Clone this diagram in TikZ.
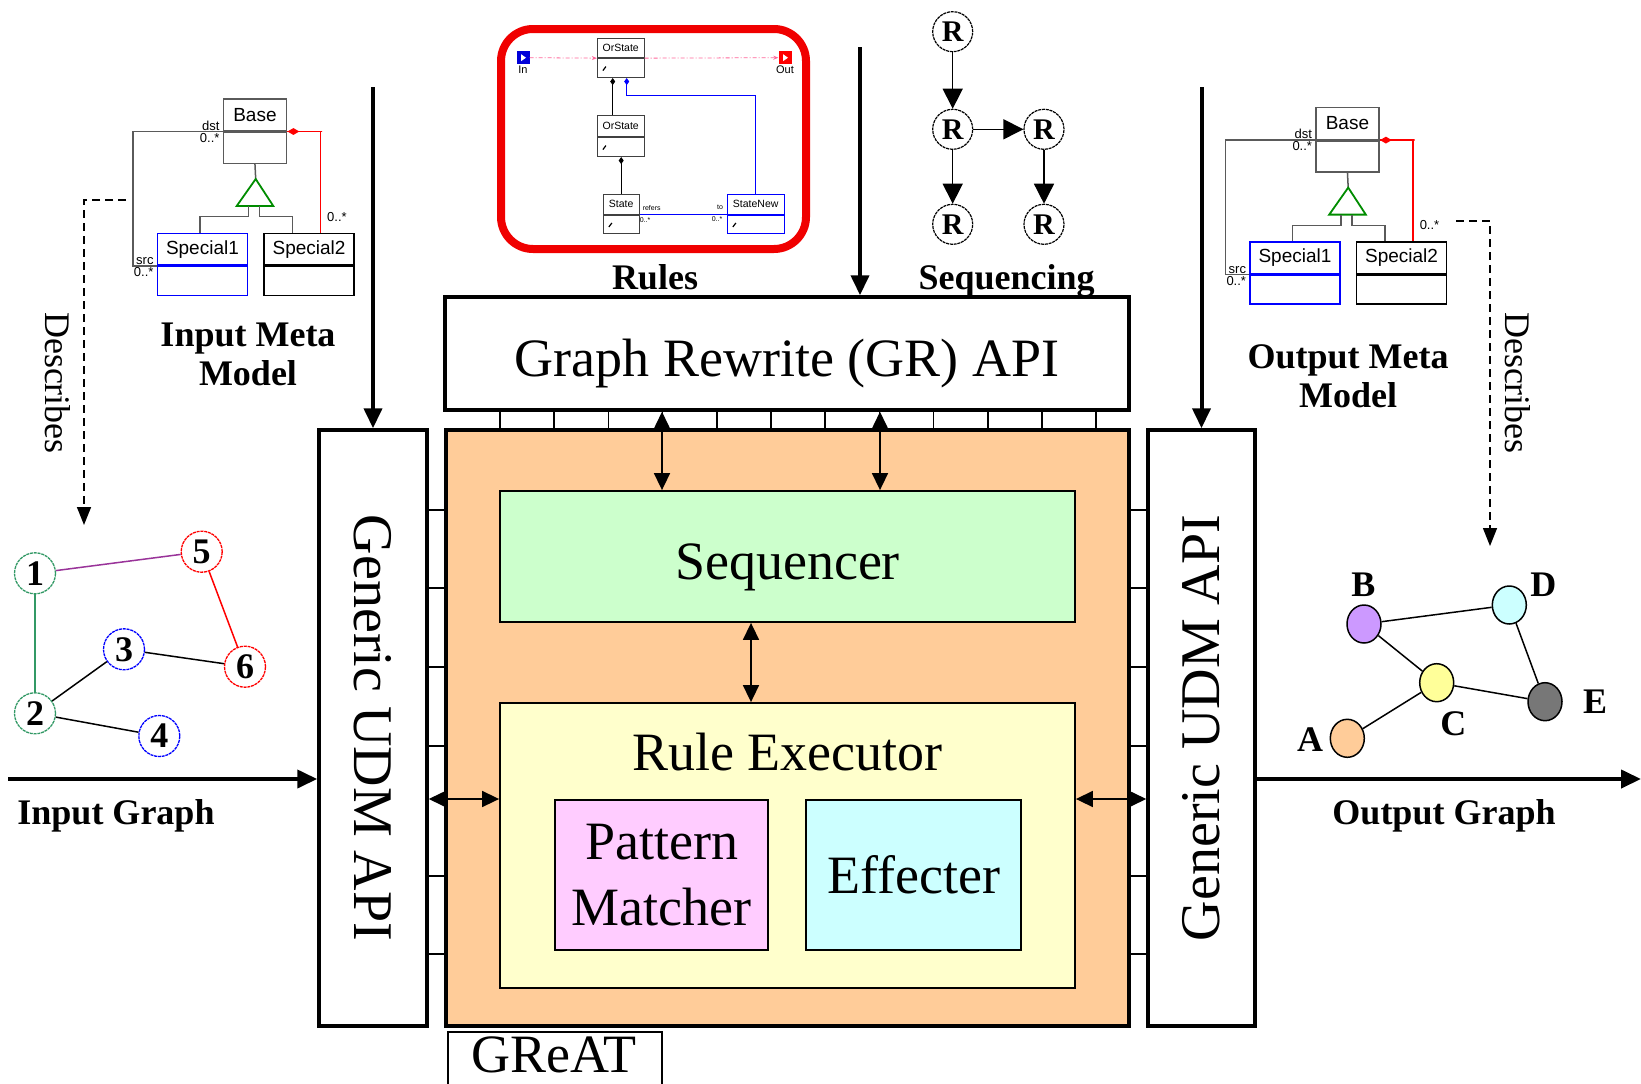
\documentclass[tikz,border=0pt]{standalone}
\usepackage{fontspec}
\setmainfont{Liberation Serif}
\newfontfamily\umlsans{Liberation Sans}
\usetikzlibrary{arrows.meta,shapes.geometric}
\definecolor{peach}{RGB}{255,204,153}
\definecolor{seqgreen}{RGB}{204,255,204}
\definecolor{ruleyellow}{RGB}{255,255,204}
\definecolor{patpink}{RGB}{255,204,255}
\definecolor{effcyan}{RGB}{204,255,255}
\definecolor{ggreen}{RGB}{51,153,102}
\definecolor{purp}{RGB}{153,51,153}
\definecolor{colB}{RGB}{204,153,255}
\definecolor{colC}{RGB}{255,255,153}
\definecolor{colD}{RGB}{204,255,255}
\definecolor{colE}{RGB}{119,119,119}
\definecolor{colA}{RGB}{255,204,153}
\definecolor{rulered}{RGB}{240,0,0}
\definecolor{pinkline}{RGB}{255,102,153}
\definecolor{umlgray}{RGB}{90,90,90}
\definecolor{trigreen}{RGB}{0,140,0}
\begin{document}
\begin{tikzpicture}[x=1pt,y=-1pt,
  bigbox/.style={draw, line width=3.5pt, inner sep=0pt},
  midbox/.style={draw, line width=1.8pt, inner sep=0pt},
  big/.style={font=\fontsize{54}{66}\selectfont},
  udm/.style={font=\fontsize{56}{60}\selectfont},
  lbl/.style={font=\fontsize{36}{39}\selectfont\bfseries, inner sep=0pt},
  desctext/.style={font=\fontsize{36}{40}\selectfont, inner sep=0pt},
  tick/.style={line width=1.5pt},
  dbl/.style={line width=1.6pt, arrows={Triangle[length=17pt,width=16pt]-Triangle[length=17pt,width=16pt]}},
  thickarr/.style={line width=4pt, arrows={-Triangle[length=20pt,width=18pt]}},
  rnode/.style={circle, draw, dash pattern=on 3pt off 0.8pt, line width=1.2pt, minimum size=40pt, inner sep=0pt, font=\fontsize{30}{30}\selectfont\bfseries},
  seqarr/.style={line width=1.5pt, arrows={-Triangle[length=20pt,width=20pt]}},
  gnode/.style={circle, draw, dash pattern=on 3pt off 0.8pt, line width=1.3pt, minimum size=41pt, inner sep=0pt, font=\fontsize{36}{36}\selectfont\bfseries},
  onode/.style={ellipse, draw, line width=1.5pt, minimum width=34pt, minimum height=38pt, inner sep=0pt},
  olbl/.style={font=\fontsize{36}{36}\selectfont\bfseries, inner sep=0pt},
  gedge/.style={line width=1.5pt},
  uml/.style={draw, line width=1.5pt, inner sep=0pt, font=\umlsans\fontsize{19}{19}\selectfont},
  umltiny/.style={font=\umlsans\fontsize{13}{13}\selectfont, inner sep=0pt},
  rcls/.style={draw=black!75, line width=0.9pt, inner sep=0pt, font=\umlsans\fontsize{10.5}{10.5}\selectfont},
  rtiny/.style={font=\umlsans\fontsize{7}{7}\selectfont, inner sep=0pt},
  desc/.style={dash pattern=on 8pt off 5pt, line width=1.5pt, arrows={-Triangle[length=18pt,width=14pt]}}
]
\useasboundingbox (0,0) rectangle (1641,1084);

% ---------------- main blocks ----------------
\node[bigbox, fill=peach, minimum width=683pt, minimum height=596pt] (great) at (787.5,728) {};
\node[bigbox, fill=white, minimum width=684pt, minimum height=113pt] (gr) at (787,353.5) {};
\node[big, inner sep=0pt] (grtext) at (787,364) {Graph Rewrite (GR) API};
\node[bigbox, fill=white, minimum width=108pt, minimum height=596pt] (lu) at (373,728) {};
\node[udm, rotate=-90] (lutext) at (lu.center) {Generic UDM API};
\node[bigbox, fill=white, minimum width=107pt, minimum height=596pt] (ru) at (1201.5,728) {};
\node[udm, rotate=90] (rutext) at (ru.center) {Generic UDM API};
\node[midbox, fill=seqgreen, minimum width=575pt, minimum height=131pt] (seq) at (787.5,556.5) {};
\node[big, inner sep=0pt] (seqtext) at (787.5,567) {Sequencer};
\node[midbox, fill=ruleyellow, minimum width=575pt, minimum height=285pt] (re) at (787.5,845.5) {};
\node[big, inner sep=0pt] (retext) at (787.5,752) {Rule Executor};
\node[midbox, fill=patpink, minimum width=213pt, minimum height=150pt, big, align=center] (pm) at (661.5,875) {Pattern\\Matcher};
\node[midbox, fill=effcyan, minimum width=215pt, minimum height=150pt, big] (eff) at (913.5,875) {Effecter};
\node[draw, line width=1.5pt, fill=white, minimum width=214pt, minimum height=64pt, inner sep=0pt, anchor=north west] (greatlbl) at (447,1031) {};
\node[big, inner sep=0pt] (greattext) at (554,1055) {GReAT};

% ticks
\foreach \k in {0,...,11} { \draw[tick] (500+\k*54.2,410) -- (500+\k*54.2,430); }
\foreach \yy in {510,588,667,746,876,954} {
  \draw[tick] (427,\yy) -- (446,\yy);
  \draw[tick] (1129,\yy) -- (1148,\yy);
}

% double arrows
\draw[dbl] ([xshift=-125pt]gr.south) -- ([xshift=-125.5pt]seq.north);
\draw[dbl] ([xshift=93pt]gr.south) -- ([xshift=92.5pt]seq.north);
\draw[dbl] ([xshift=-36.5pt]seq.south) -- ([xshift=-36.5pt]re.north);
\draw[dbl] ([yshift=-71pt]lu.east) -- ([yshift=46.5pt]re.west);
\draw[dbl] ([yshift=46.5pt]re.east) -- ([yshift=-71pt]ru.west);

% top arrows
\coordinate (topL) at (373,87);
\coordinate (topM) at (860,47);
\coordinate (topR) at (1201.5,87);
\draw[thickarr] (topL) -- (lu.north);
\draw[thickarr] (topM) -- (topM |- gr.north);
\draw[thickarr] (topR) -- (ru.north);

% input / output arrows
\coordinate (inS) at (8,779);
\coordinate (outE) at (1641,779);
\draw[thickarr] (inS) -- (inS -| lu.west);
\draw[thickarr] (outE -| ru.east) -- (outE);
\node[lbl] (inlbl) at (116,816) {Input Graph};
\node[lbl] (outlbl) at (1444,816) {Output Graph};

% ---------------- Rules picture ----------------
\node[draw=rulered, line width=8pt, rounded corners=32pt, minimum width=305pt, minimum height=220pt, inner sep=0pt] (rulesframe) at (653.5,139) {};
\node[rcls, minimum width=46.7pt, minimum height=19.4pt] (ortop) at (620.7,48) {OrState};
\node[rcls, minimum width=46.7pt, minimum height=19pt, anchor=north] (ortopL) at (ortop.south) {};
\node[rcls, minimum width=46.7pt, minimum height=21pt] (ormid) at (620.7,126.2) {OrState};
\node[rcls, minimum width=46.7pt, minimum height=19pt, anchor=north] (ormidL) at (ormid.south) {};
\node[rcls, minimum width=35.7pt, minimum height=20.3pt] (rstate) at (621.2,204.2) {State};
\node[rcls, minimum width=35.7pt, minimum height=18.4pt, anchor=north] (rstateL) at (rstate.south) {};
\node[rcls, draw=blue, minimum width=56.7pt, minimum height=20.3pt] (rnew) at (755.7,204.2) {StateNew};
\node[rcls, draw=blue, minimum width=56.7pt, minimum height=18.4pt, anchor=north] (rnewL) at (rnew.south) {};
\foreach \n in {ortopL,ormidL,rstateL,rnewL} {
  \draw[line width=1.2pt] ([xshift=6pt,yshift=-2.5pt]\n.west) -- ++(3,-4);
}
\node[fill=blue!85!black, minimum size=13pt, inner sep=0pt] (rin) at (523,57.7) {};
\fill[white] ([xshift=-2pt,yshift=3.5pt]rin.center) -- ++(5,3.5) -- ++(-5,3.5) -- cycle;
\node[font=\umlsans\fontsize{11}{11}\selectfont, anchor=north, inner sep=1.5pt] (rinlbl) at (rin.south) {In};
\node[fill=red, minimum size=13pt, inner sep=0pt] (rout) at (785,57.7) {};
\fill[white] ([xshift=-2pt,yshift=3.5pt]rout.center) -- ++(5,3.5) -- ++(-5,3.5) -- cycle;
\node[font=\umlsans\fontsize{11}{11}\selectfont, anchor=north, inner sep=1.5pt] (routlbl) at (rout.south) {Out};
\draw[pinkline, line width=0.8pt, dash pattern=on 4pt off 2pt on 1pt off 2pt, arrows={-Stealth[length=5pt,width=4pt]}] (rin.east) -- (ortop.south west);
\draw[pinkline, line width=0.8pt, dash pattern=on 4pt off 2pt on 1pt off 2pt, arrows={-Stealth[length=5pt,width=4pt]}] (ortop.south east) -- (rout.west);
\draw[line width=1pt, arrows={-Diamond[length=7pt,width=5pt]}] ([xshift=-8pt]ormid.north) -- ([xshift=-8pt]ortopL.south);
\draw[line width=1pt, arrows={-Diamond[length=7pt,width=5pt]}] (rstate.north) -- (rstate.north |- ormidL.south);
\draw[blue, line width=1pt, arrows={-Diamond[length=7pt,width=5pt]}] (rnew.north) -- ++(0,-98) -| ([xshift=6pt]ortopL.south);
\draw[blue, line width=1pt] (rstateL.north east) -- (rnewL.north west);
\node[rtiny] (rt1) at (651.7,207.5) {refers};
\node[rtiny] (rt2) at (645,220) {0..*};
\node[rtiny] (rt3) at (720,207) {to};
\node[rtiny] (rt4) at (717,219.5) {0..*};
\node[lbl] (ruleslbl) at (655,277) {Rules};

% ---------------- Sequencing ----------------
\node[rnode] (r1) at (952.7,31.7) {R};
\node[rnode] (r2) at (952.7,129.3) {R};
\node[rnode] (r3) at (1044,129.3) {R};
\node[rnode] (r4) at (952.7,224.3) {R};
\node[rnode] (r5) at (1044,224.3) {R};
\draw[seqarr] (r1) -- (r2);
\draw[seqarr] (r2) -- (r3);
\draw[seqarr] (r2) -- (r4);
\draw[seqarr] (r3) -- (r5);
\node[lbl] (seqlbl) at (1006.7,280.5) {Sequencing};

% ---------------- Meta models ----------------
\foreach \p/\dx/\dy in {i/0/0, o/1092.5/8.6} {
\begin{scope}[shift={(\dx,\dy)}]
  \node[uml, draw=umlgray, minimum width=63pt, minimum height=31.7pt, anchor=north west] (\p-base) at (222.7,98.3) {Base};
  \node[uml, draw=umlgray, minimum width=63pt, minimum height=31pt, anchor=north] (\p-baseL) at (\p-base.south) {};
  \node[uml, draw=blue, minimum width=90pt, minimum height=31.6pt, anchor=north west] (\p-s1) at (156.7,232.7) {Special1};
  \node[uml, draw=blue, minimum width=90pt, minimum height=29pt, anchor=north] (\p-s1L) at (\p-s1.south) {};
  \node[uml, minimum width=90pt, minimum height=31.6pt, anchor=north west] (\p-s2) at (263.3,232.7) {Special2};
  \node[uml, minimum width=90pt, minimum height=29pt, anchor=north] (\p-s2L) at (\p-s2.south) {};
  \coordinate (\p-apex) at (255.7,179);
  \coordinate (\p-tl) at (236.7,206);
  \coordinate (\p-tr) at (273.3,206);
  \draw[line width=1.5pt, umlgray] (\p-baseL.south) -- (\p-apex);
  \draw[trigreen, line width=1.8pt] (\p-apex) -- (\p-tr) -- (\p-tl) -- cycle;
  \draw[line width=1.5pt, umlgray] ([xshift=11.6pt]\p-tl) -- ++(0,10.7) -| ([xshift=43.3pt]\p-s1.north west);
  \draw[line width=1.5pt, umlgray] ([xshift=-14pt]\p-tr) -- ++(0,10.7) -| ([xshift=29.4pt]\p-s2.north west);
  \draw[line width=1.5pt, umlgray] (\p-base.south west) -- ++(-89.7,0) |- (\p-s1L.north west);
  \draw[line width=1.5pt, red] (\p-base.south east) -- ++(35,0) -| ([xshift=57.4pt]\p-s2.north west);
  \node[diamond, fill=red, minimum width=12pt, minimum height=7pt, inner sep=0pt, anchor=west] (\p-dia) at (\p-base.south east) {};
  \node[umltiny, anchor=south east] (\p-dst) at ([xshift=-3pt,yshift=1pt]\p-base.south west) {dst};
  \node[umltiny, anchor=north east] (\p-dstm) at ([xshift=-3pt,yshift=-1.5pt]\p-base.south west) {0..*};
  \node[umltiny, anchor=south east] (\p-src) at ([xshift=-3pt,yshift=1pt]\p-s1L.north west) {src};
  \node[umltiny, anchor=north east] (\p-srcm) at ([xshift=-3pt,yshift=-1.5pt]\p-s1L.north west) {0..*};
  \node[umltiny] (\p-redm) at (337,216.7) {0..*};
\end{scope}
}
\node[lbl, align=center] (inmeta) at (248,354) {Input Meta\\Model};
\node[lbl, align=center] (outmeta) at (1348,376) {Output Meta\\Model};

% Describes
\coordinate (dL0) at (126,200);
\coordinate (dL1) at (84,525);
\draw[desc] (dL0) -| (dL1);
\node[desctext, rotate=-90] (descL) at (58,383) {Describes};
\coordinate (dR0) at (1456,221);
\coordinate (dR1) at (1490,546);
\draw[desc] (dR0) -| (dR1);
\node[desctext, rotate=-90] (descR) at (1518,383) {Describes};

% ---------------- Input graph ----------------
\node[gnode, draw=ggreen] (n1) at (35,573.3) {1};
\node[gnode, draw=ggreen] (n2) at (35,713.3) {2};
\node[gnode, draw=blue] (n3) at (124,649.3) {3};
\node[gnode, draw=blue] (n4) at (159.3,736) {4};
\node[gnode, draw=red] (n5) at (201.7,551.7) {5};
\node[gnode, draw=red] (n6) at (245,666.7) {6};
\draw[gedge, purp] (n1) -- (n5);
\draw[gedge, ggreen] (n1) -- (n2);
\draw[gedge, red] (n5) -- (n6);
\draw[gedge] (n3) -- (n6);
\draw[gedge] (n2) -- (n3);
\draw[gedge] (n2) -- (n4);

% ---------------- Output graph ----------------
\node[onode, fill=colB] (oB) at (1364,624) {};
\node[onode, fill=colD] (oD) at (1509.3,605) {};
\node[onode, fill=colC] (oC) at (1436.7,682.7) {};
\node[onode, fill=colE] (oE) at (1545,701.7) {};
\node[onode, fill=colA] (oA) at (1347.3,738.3) {};
\draw[gedge] (oB) -- (oD);
\draw[gedge] (oB) -- (oC);
\draw[gedge] (oC) -- (oE);
\draw[gedge] (oD) -- (oE);
\draw[gedge] (oA) -- (oC);
\node[olbl] (lB) at (1363.3,585) {B};
\node[olbl] (lD) at (1543.3,585) {D};
\node[olbl] (lC) at (1453.3,723.3) {C};
\node[olbl] (lE) at (1595,701.7) {E};
\node[olbl] (lA) at (1310,740) {A};
\end{tikzpicture}
\end{document}
